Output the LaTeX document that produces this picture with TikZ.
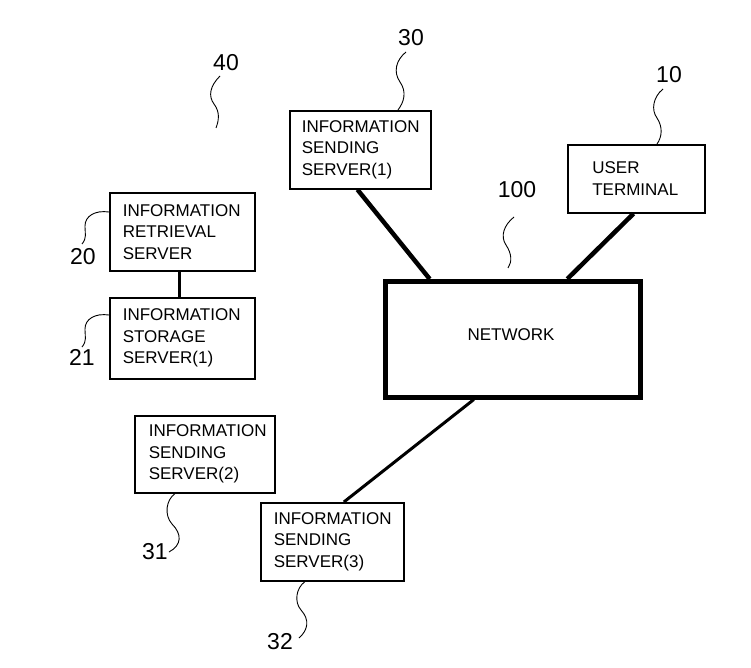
\documentclass[tikz,border=0pt]{standalone}
\usepackage{fontspec}
\setmainfont{Liberation Sans}
\usetikzlibrary{calc}
\begin{document}
\begin{tikzpicture}[x=1pt,y=-1pt,
  box/.style={draw, line width=1.6pt, anchor=north west, align=left, inner ysep=0pt,
    font=\fontsize{17}{21.5}\selectfont},
  num/.style={font=\fontsize{23}{23}\selectfont, inner sep=0pt},
  lead/.style={line width=0.9pt},
  link/.style={line width=4.5pt},
  thinlink/.style={line width=3pt}]
\useasboundingbox (0,0) rectangle (751,668);

% boxes
\node[box, inner xsep=12pt, text width=117pt, minimum height=78pt] (s1) at (289,110)
  {INFORMATION\\SENDING\\SERVER(1)};
\node[box, inner xsep=0pt, text width=88pt, minimum width=137pt, minimum height=68pt] (ut) at (567,144)
  {USER\\TERMINAL};
\node[box, inner xsep=13pt, text width=119pt, minimum height=78pt] (ret) at (109,192)
  {INFORMATION\\RETRIEVAL\\SERVER};
\node[box, inner xsep=13pt, text width=119pt, minimum height=81pt] (sto) at (109,297)
  {INFORMATION\\STORAGE\\SERVER(1)};
\node[box, inner xsep=14pt, text width=112pt, minimum height=77pt] (s2) at (134,415)
  {INFORMATION\\SENDING\\SERVER(2)};
\node[box, inner xsep=13pt, text width=117pt, minimum height=78pt] (s3) at (260,502)
  {INFORMATION\\SENDING\\SERVER(3)};
\node[draw, line width=4.5pt, anchor=north west, minimum width=255pt, minimum height=116pt] (net) at (383,279) {};
\node[font=\fontsize{17}{21.5}\selectfont, inner sep=0pt] (netlabel) at (511,335) {NETWORK};

% connectors
\draw[link] ($(s1.south west)!0.48!(s1.south east)$) -- ($(net.north west)!0.18!(net.north east)$);
\draw[link] ($(ut.south west)!0.48!(ut.south east)$) -- ($(net.north west)!0.71!(net.north east)$);
\draw[thinlink] ($(net.south west)!0.35!(net.south east)$) -- ($(s3.north west)!0.58!(s3.north east)$);
\draw[thinlink] ($(ret.south west)!0.48!(ret.south east)$) -- ($(sto.north west)!0.48!(sto.north east)$);

% reference numerals
\node[num] (n40) at (226,63) {40};
\node[num] (n30) at (411,38) {30};
\node[num] (n10) at (669,75) {10};
\node[num] (n100) at (517,190) {100};
\node[num] (n20) at (83,257) {20};
\node[num] (n21) at (82,357) {21};
\node[num] (n31) at (155,552) {31};
\node[num] (n32) at (280,642) {32};

% leader squiggles
\coordinate (e40a) at (220,76);
\coordinate (e40b) at (216,128);
\draw[lead] (e40a) .. controls (210,86) and (208,96) .. (214,104) .. controls (220,112) and (219,120) .. (e40b);

\coordinate (e30) at (406,52);
\draw[lead] (e30) .. controls (396,60) and (393,72) .. (400,82) .. controls (407,92) and (404,102) .. (398,0 |- s1.north);

\coordinate (e10) at (663,89);
\draw[lead] (e10) .. controls (653,97) and (651,110) .. (657,118) .. controls (663,127) and (662,137) .. (657,0 |- ut.north);

\coordinate (e100a) at (514,217);
\coordinate (e100b) at (508,268);
\draw[lead] (e100a) .. controls (504,225) and (500,236) .. (506,245) .. controls (512,254) and (512,262) .. (e100b);

\coordinate (e20) at (82,244);
\draw[lead] (ret.west |- 0,212) .. controls (95,210) and (85,216) .. (85,226) .. controls (85,234) and (87,238) .. (e20);

\coordinate (e21) at (82,347);
\draw[lead] (sto.west |- 0,315) .. controls (95,313) and (85,319) .. (85,329) .. controls (85,337) and (87,341) .. (e21);

\coordinate (e31) at (169,552);
\draw[lead] (175,0 |- s2.south) .. controls (166,500) and (164,515) .. (172,524) .. controls (182,534) and (182,545) .. (e31);

\coordinate (e32) at (299,638);
\draw[lead] (305,0 |- s3.south) .. controls (296,588) and (294,602) .. (301,610) .. controls (310,620) and (308,630) .. (e32);
\end{tikzpicture}
\end{document}
